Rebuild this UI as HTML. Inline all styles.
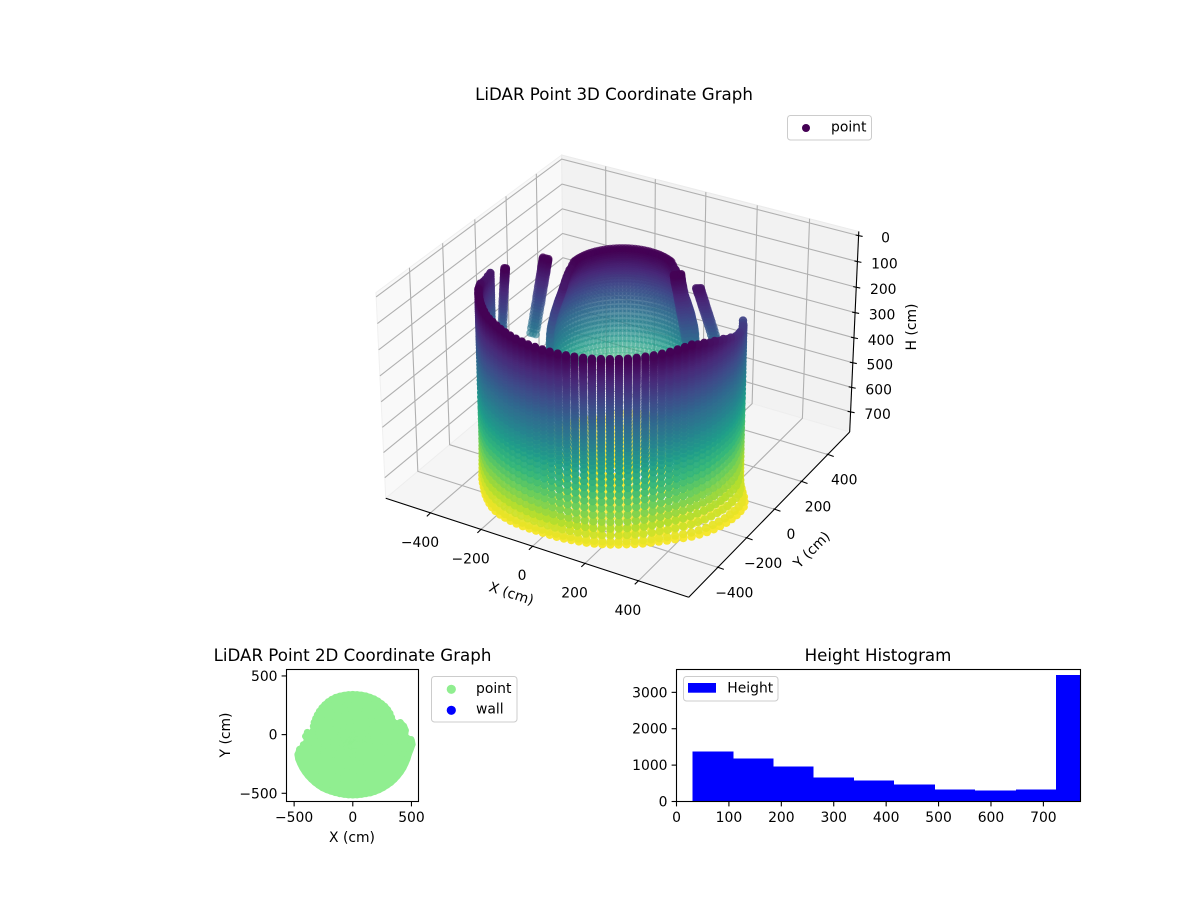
<!DOCTYPE html>
<html>
<head>
<meta charset="utf-8">
<title>LiDAR Point Graphs</title>
<style>
html,body{margin:0;padding:0;background:#fff;}
svg{display:block;}
text{font-family:"DejaVu Sans","Liberation Sans",sans-serif;font-size:13.9px;fill:#000;}
.title{font-size:16.67px;text-anchor:middle;}
.mid{text-anchor:middle;}
.end{text-anchor:end;}
</style>
</head>
<body>
<svg id="figure" width="1200" height="900" viewBox="0 0 1200 900" xmlns="http://www.w3.org/2000/svg">
  <rect width="1200" height="900" fill="#fff"/>
  <text class="title" x="614" y="100">LiDAR Point 3D Coordinate Graph</text>
  <g id="axes3d"></g>
  <g id="cloud3d"></g>
  <text class="mid" transform="translate(510,598) rotate(18)">X (cm)</text>
  <text class="mid" transform="translate(815,553) rotate(-45)">Y (cm)</text>
  <text class="mid" transform="translate(916,327) rotate(-90)">H (cm)</text>
  <g>
    <rect x="787.5" y="115.5" width="84" height="24.5" rx="3" fill="#fff" stroke="#ccc" stroke-width="1"/>
    <circle cx="806" cy="128" r="4" fill="#440154"/>
    <text x="831" y="131.5">point</text>
  </g>

  <text class="title" x="352.5" y="661">LiDAR Point 2D Coordinate Graph</text>
  <g id="cloud2d"></g>
  <rect x="286.5" y="669.5" width="132" height="132" fill="none" stroke="#000" stroke-width="1.1"/>
  <g id="axes2d"></g>
  <text class="mid" x="352" y="842">X (cm)</text>
  <text class="mid" transform="translate(230,735) rotate(-90)">Y (cm)</text>
  <g>
    <rect x="431.5" y="676.5" width="85.5" height="45.5" rx="3" fill="#fff" stroke="#ccc" stroke-width="1"/>
    <circle cx="451.3" cy="689.3" r="4.6" fill="#90ee90"/>
    <circle cx="451.3" cy="710.3" r="4.6" fill="#0000ff"/>
    <text x="476" y="693">point</text>
    <text x="476" y="713.5">wall</text>
  </g>

  <text class="title" x="878" y="661">Height Histogram</text>
  <g id="histBars" shape-rendering="crispEdges"></g>
  <rect x="676.5" y="669.5" width="404" height="132" fill="none" stroke="#000" stroke-width="1.1"/>
  <g id="histAxes"></g>
  <g>
    <rect x="683.5" y="676.5" width="94.5" height="24.5" rx="3" fill="#fff" stroke="#ccc" stroke-width="1"/>
    <rect x="688" y="683" width="28" height="9.7" fill="#0000ff"/>
    <text x="727.3" y="692.5">Height</text>
  </g>
</svg>
<script>
// ---- 3D axis ranges and ticks ----
const xRange3d = [-580, 585];
const yRange3d = [-596, 572];
const hRange3d = [-16, 783];
const xTicks3d = [-400, -200, 0, 200, 400];
const yTicks3d = [-400, -200, 0, 200, 400];
const hTicks3d = [0, 100, 200, 300, 400, 500, 600, 700];
const xTickLabels3d = ['\u2212400', '\u2212200', '0', '200', '400'];
const yTickLabels3d = ['\u2212400', '\u2212200', '0', '200', '400'];
const hTickLabels3d = ['0', '100', '200', '300', '400', '500', '600', '700'];

// ---- room centre in data space ----
const roomCenter = [0, -85];
const domeCenter = [5, -12];

// ---- floor outline: azimuth (deg) and radius (cm) ----
const outlineAngles = [0,5,10,15,20,25,30,35,40,45,50,55,60,65,70,75,80,85,90,95,100,105,110,115,120,125,130,135,140,145,150,155,160,165,170,175,180,185,190,195,200,205,210,215,220,225,230,235,240,245,250,255,260,265,270,275,280,285,290,295,300,305,310,315,320,325,330,335,340,345,350,355];
const outlineRadius = [536,530,480,494,490,475,421,430,440,448,452,454,456,457,457,457,456,455,455,455,455,455,455,452,448,442,436,428,420,412,405,395,381,427,435,418,448,485,505,507,503,500,496,492,488,485,481,478,472,467,463,461,459,458,457,458,459,461,466,469,473,477,481,486,490,493,497,501,503,507,511,522];
const floorFractions = [0.09,0.18,0.27,0.36,0.45,0.54,0.63,0.72,0.79,0.85];
const floorHeight = 768;

// ---- wall columns ----
const wallAngles = [189.5,192.75,196,199.25,202.5,205.75,209,212.25,215.5,218.75,222,225.25,228.5,231.75,235,238.25,241.5,244.75,248,251.25,254.5,257.75,261,264.25,267.5,270.75,274,277.25,280.5,283.75,287,290.25,293.5,296.75,300,303.25,306.5,309.75,313,316.25,319.5,322.75,326,329.25,332.5,335.75,339,342.25,345.5,348.75,352,355.25,358.5,361.75,365,368.25,371.5,374.75,378,381.25,384.5,387.75,391];
const wallRadius = [428,428,428,428,429,430,431,432,434,436,438,440,443,446,450,454,457,459,462,466,469,473,476,479,483,485,488,491,493,495,497,498,500,500,500,500,500,498,497,495,493,491,488,485,483,479,476,473,469,466,462,459,457,454,450,448,445,442,442,441,441,440,440];
const wallBaseRadius = [430,430,432,432,433,433,434,436,438,440,442,444,448,452,456,460,464,466,466,465,464,462,460,458,456,455,455,456,457,458,460,462,464,465,466,467,468,470,472,474,476,480,484,490,497,501,505,507,508,510,510,510,508,505,495,482,468,456,448,444,442,441,440];
const wallRim = [75,75,72,66,60,52,44,38,32,32,32,32,32,32,32,32,32,32,32,32,32,32,32,32,32,32,32,32,32,32,32,32,32,32,32,32,32,32,32,32,32,32,32,32,32,40,46,54,62,72,82,92,102,112,120,128,136,144,152,158,164,170,176];
const wallRows = [32,37,42,47,52,58,64,70,76,82,89,96,103,110,118,126,134,142,151,160,169,179,189,199,210,221,232,244,256,268,281,294,308,322,336,351,366,382,398,415,432,450,472,495,519,544,570,597,625,654,684,715,745,760];
const wallRowFlare = [0,0,0,0,0,0,0,0,0,0,0,0,0,0,0,0,0,0,0,0,0,0,0,0,0,0,0,0,0,0,0,0,0,0,0,0,0,0,0,0,0,0,0,0,0,0,0,0.05,0.12,0.25,0.42,0.62,0.85,1];

// ---- rear dome rows ----
const domeHeights = [32,40,48,56,64,72,80,90,100,110,120,132,144,156,170,184,198,214,230,246,264,282,300,320,340,360,382,404,428,452,478,505];
const domeRadius = [185,186,187,189,191,193,195,198,201,204,207,211,215,219,223,227,231,234,238,241,243,244,245,245,246,249,252,256,260,264,268,272];
const domeSpan = [63,68,72,76,80,85,90,90,90,90,90,90,90,90,90,90,90,90,90,90,90,90,90,90,90,88,84,78,72,67,62,58];
const domeOffsets = [0,3.25,6.5,9.75,13,16.25,19.5,22.75,26,29.25,32.5,35.75,39,42.25,45.5,48.75,52,55.25,58.5,61.75,65,68.25,71.5,74.75,78,81.25,84.5,87.75,90];

// ---- rear wall strips ("fins"): one azimuth each, radius per row (0 = no point) ----
const finRows = [32,36,40,44,48,52,56,60,65,70,75,80,86,92,100,108,116,124,132,140,150,160,170,180,190,200,212,224,236,250,264,278,292,306,320,340];
const finAngles = [200, 181, 32, 45];
const finCenterX = [3, -5, -11, 0];
const finCenterY = [-40, -38, -63, -85];
const finThickness = [[-3,3],[-11,0,11],[-8,0,8],[-13,-4,4,13]];
const fin1Radius = [380,380,381,381,381,381,382,382,382,383,383,383,384,384,385,385,386,386,387,387,388,389,389,390,390,391,391,392,393,393,394,395,396,396,397,398];
const fin2Radius = [269,270,270,271,272,272,273,274,275,276,277,277,278,279,281,282,284,285,286,288,290,291,293,295,297,298,300,303,305,307,310,312,315,317,320,323];
const fin3Radius = [0,0,0,0,0,0,0,0,0,290,291,293,294,296,299,301,303,306,308,310,313,316,319,322,325,328,331,335,338,342,346,350,354,358,362,368];
const fin4Radius = [230,230,231,231,232,232,233,233,234,235,236,237,238,239,241,242,243,245,246,247,249,251,252,254,256,258,260,262,264,266,269,271,274,276,279,282];

// ---- 2D chart ----
const xRange2d = [-565, 560];
const yRange2d = [-570, 555];
const xTicks2d = [-500, 0, 500];
const yTicks2d = [-500, 0, 500];
const xTickLabels2d = ['\u2212500', '0', '500'];
const yTickLabels2d = ['\u2212500', '0', '500'];
const ringFractions2d = [0.04,0.12,0.20,0.28,0.36,0.44,0.52,0.60,0.68,0.76,0.84,0.94];

// ---- histogram ----
const binEdges = [30.5,108.6,184.8,261,339,415,493,569.5,647.6,723.8,770.8];
const binCounts = [1377,1185,964,661,578,468,331,303,331,3471];
const histXTicks = [0,100,200,300,400,500,600,700];
const histYTicks = [0,1000,2000,3000];
const histXLabels = ['0','100','200','300','400','500','600','700'];
const histYLabels = ['0','1000','2000','3000'];
const histXMax = 770.8;
const histYMax = 3628;

const viridisStops = ['#440154','#482878','#3e4989','#31688e','#26828e','#1f9e89','#35b779','#6ece58','#b5de2b','#fde725'];

const SVGNS = 'http://www.w3.org/2000/svg';
function make(tag, parent, attrs) {
  const el = document.createElementNS(SVGNS, tag);
  for (const k in attrs) el.setAttribute(k, attrs[k]);
  if (parent) parent.appendChild(el);
  return el;
}
function project(x, y, h) {
  const dx = ((x - xRange3d[0]) / (xRange3d[1] - xRange3d[0]) - 0.5) * 1.19;
  const dy = ((y - yRange3d[0]) / (yRange3d[1] - yRange3d[0]) - 0.5) * 1.19;
  const dz = (0.5 - (h - hRange3d[0]) / (hRange3d[1] - hRange3d[0])) * 0.8;
  const xv = 0.866 * dx + 0.5 * dy;
  const yv = -0.25 * dx + 0.433 * dy + 0.866 * dz;
  const wd = 0.433 * dx - 0.75 * dy + 0.5 * dz;
  const k = 10 - wd;
  return { x: 622 + 2910 * xv / k, y: 365 - 2930 * yv / k, depth: wd };
}
function viridis(t) {
  t = Math.max(0, Math.min(1, t)) * (viridisStops.length - 1);
  const i = Math.min(viridisStops.length - 2, Math.floor(t));
  const f = t - i;
  const a = parseInt(viridisStops[i].slice(1), 16);
  const b = parseInt(viridisStops[i + 1].slice(1), 16);
  const ch = s => Math.round(((a >> s) & 255) * (1 - f) + ((b >> s) & 255) * f);
  return 'rgb(' + ch(16) + ',' + ch(8) + ',' + ch(0) + ')';
}
function polar(center, r, thetaDeg) {
  const a = thetaDeg * Math.PI / 180;
  return [center[0] + r * Math.cos(a), center[1] + r * Math.sin(a)];
}

// ---------- 3D axes ----------
const axes3d = document.getElementById('axes3d');
const X0 = xRange3d[0], X1 = xRange3d[1], Y0 = yRange3d[0], Y1 = yRange3d[1], HT = hRange3d[0], HB = hRange3d[1];
function poly(pts) {
  return pts.map(p => { const q = project(p[0], p[1], p[2]); return q.x + ',' + q.y; }).join(' ');
}
const leftPane = make('polygon', axes3d, { points: poly([[X0,Y0,HB],[X0,Y0,HT],[X0,Y1,HT],[X0,Y1,HB]]), fill: '#f9f9f9', stroke: '#f0f0f0', 'stroke-width': 1 });


const backPane = make('polygon', axes3d, { points: poly([[X0,Y1,HB],[X0,Y1,HT],[X1,Y1,HT],[X1,Y1,HB]]), fill: '#f2f2f2', stroke: '#ebebeb', 'stroke-width': 1 });


const floorPane = make('polygon', axes3d, { points: poly([[X0,Y0,HB],[X1,Y0,HB],[X1,Y1,HB],[X0,Y1,HB]]), fill: '#f5f5f5', stroke: '#eeeeee', 'stroke-width': 1 });



function line3d(parent, a, b, color, w) {
  const p = project(a[0], a[1], a[2]), q = project(b[0], b[1], b[2]);
  return make('line', parent, { x1: p.x, y1: p.y, x2: q.x, y2: q.y, stroke: color, 'stroke-width': w });
}
xTicks3d.forEach(v => {
  const g = make('polyline', axes3d, { points: poly([[v,Y0,HB],[v,Y1,HB],[v,Y1,HT]]), fill: 'none', stroke: '#b0b0b0', 'stroke-width': 1.1 });
  
  
});
yTicks3d.forEach(v => {
  const g = make('polyline', axes3d, { points: poly([[X1,v,HB],[X0,v,HB],[X0,v,HT]]), fill: 'none', stroke: '#b0b0b0', 'stroke-width': 1.1 });
  
  
});
hTicks3d.forEach(v => {
  const g = make('polyline', axes3d, { points: poly([[X0,Y0,v],[X0,Y1,v],[X1,Y1,v]]), fill: 'none', stroke: '#b0b0b0', 'stroke-width': 1.1 });
  
  
});
const xAxisLine = line3d(axes3d, [X0,Y0,HB], [X1,Y0,HB], '#000', 1.1);


const yAxisLine = line3d(axes3d, [X1,Y0,HB], [X1,Y1,HB], '#000', 1.1);


const hAxisLine = line3d(axes3d, [X1,Y1,HB], [X1,Y1,HT], '#000', 1.1);



xTicks3d.forEach((v, i) => {
  const p = project(v, Y0, HB);
  const t = make('line', axes3d, { x1: p.x + 0.5, y1: p.y - 0.5, x2: p.x - 3.7, y2: p.y + 3.5, stroke: '#000', 'stroke-width': 1.1 });
  
  
  const l = make('text', axes3d, { x: p.x - 10.5, y: p.y + 34, class: 'mid' });
  
  
  l.textContent = xTickLabels3d[i];
});
yTicks3d.forEach((v, i) => {
  const p = project(X1, v, HB);
  const t = make('line', axes3d, { x1: p.x - 1, y1: p.y - 0.5, x2: p.x + 6, y2: p.y + 2, stroke: '#000', 'stroke-width': 1.1 });
  
  
  const l = make('text', axes3d, { x: p.x + 16.5, y: p.y + 30, class: 'mid' });
  
  
  l.textContent = yTickLabels3d[i];
});
hTicks3d.forEach((v, i) => {
  const p = project(X1, Y1, v);
  const t = make('line', axes3d, { x1: p.x - 3, y1: p.y - 0.6, x2: p.x + 4, y2: p.y + 0.8, stroke: '#000', 'stroke-width': 1.1 });
  
  
  const l = make('text', axes3d, { x: p.x + 27, y: p.y + 7, class: 'mid' });
  
  
  l.textContent = hTickLabels3d[i];
});

// ---------- 3D cloud ----------
const cloud = [];
function addPoint(x, y, h, minAlpha, size) { cloud.push(Object.assign(project(x, y, h), { h: h, minAlpha: minAlpha, size: size })); }

// wall columns
wallAngles.forEach((theta, c) => {
  wallRows.forEach((h, row) => {
    if (h < wallRim[c]) return;
    const r = wallRadius[c] + wallRowFlare[row] * (wallBaseRadius[c] - wallRadius[c]);
    const p = polar(roomCenter, r, theta);
    addPoint(p[0], p[1], h, 0.95, 4.2);
  });
});
// rear dome
domeHeights.forEach((h, i) => {
  domeOffsets.forEach(o => {
    if (o > domeSpan[i]) return;
    const signs = o === 0 ? [1] : [1, -1];
    signs.forEach(s => {
      const p = polar(domeCenter, domeRadius[i], 120 + s * o);
      addPoint(p[0], p[1], h, 0, 4);
    });
  });
});
// rear fins
[fin1Radius, fin2Radius, fin3Radius, fin4Radius].forEach((radii, f) => {
  finRows.forEach((h, i) => {
    if (!radii[i]) return;
    finThickness[f].forEach(off => {
      const p = polar([finCenterX[f], finCenterY[f]], radii[i] + off, finAngles[f]);
      addPoint(p[0], p[1], h, 0, 4);
    });
  });
});
// floor
outlineAngles.forEach((theta, a) => {
  floorFractions.forEach(fr => {
    const p = polar(roomCenter, outlineRadius[a] * fr, theta);
    addPoint(p[0], p[1], floorHeight, 0.6, 4);
  });
});

cloud.sort((a, b) => a.depth - b.depth);
const cloudGroup = document.getElementById('cloud3d');
const minDepth = cloud[0].depth, maxDepth = cloud[cloud.length - 1].depth;
cloud.forEach(pt => {
  const near = (pt.depth - minDepth) / (maxDepth - minDepth);
  const alpha = Math.max(pt.minAlpha, Math.min(0.97, 0.25 + 1.1 * near));
  const dot = make('circle', cloudGroup, {
    cx: pt.x.toFixed(1), cy: pt.y.toFixed(1), r: pt.size,
    fill: viridis((pt.h - 30) / 740),
    'fill-opacity': alpha.toFixed(2)
  });
  
  
});

// ---------- 2D chart ----------
const px2 = v => 286.5 + (v - xRange2d[0]) / (xRange2d[1] - xRange2d[0]) * 132;
const py2 = v => 801.5 - (v - yRange2d[0]) / (yRange2d[1] - yRange2d[0]) * 132;
const cloud2d = document.getElementById('cloud2d');
const blob = make('polygon', cloud2d, {
  points: outlineAngles.map((theta, a) => {
    const p = polar(roomCenter, outlineRadius[a], theta);
    return px2(p[0]).toFixed(1) + ',' + py2(p[1]).toFixed(1);
  }).join(' '),
  fill: '#90ee90'
});


outlineAngles.forEach((theta, a) => {
  ringFractions2d.forEach(fr => {
    const p = polar(roomCenter, outlineRadius[a] * fr, theta);
    const dot = make('circle', cloud2d, { cx: px2(p[0]).toFixed(1), cy: py2(p[1]).toFixed(1), r: 3.5, fill: '#90ee90' });
    
    
  });
});
const axes2d = document.getElementById('axes2d');
xTicks2d.forEach((v, i) => {
  const x = px2(v);
  const t = make('line', axes2d, { x1: x, y1: 801.5, x2: x, y2: 806.4, stroke: '#000', 'stroke-width': 1.1 });
  
  
  const l = make('text', axes2d, { x: x, y: 822, class: 'mid' });
  
  
  l.textContent = xTickLabels2d[i];
});
yTicks2d.forEach((v, i) => {
  const y = py2(v);
  const t = make('line', axes2d, { x1: 286.5, y1: y, x2: 281.6, y2: y, stroke: '#000', 'stroke-width': 1.1 });
  
  
  const l = make('text', axes2d, { x: 277.5, y: y + 5, class: 'end' });
  
  
  l.textContent = yTickLabels2d[i];
});

// ---------- histogram ----------
const hx = v => 676.5 + v / histXMax * 404;
const hy = v => 801.5 - v / histYMax * 132;
const histBars = document.getElementById('histBars');
binCounts.forEach((c, i) => {
  const bar = make('rect', histBars, {
    x: hx(binEdges[i]), y: hy(c),
    width: hx(binEdges[i + 1]) - hx(binEdges[i]),
    height: hy(0) - hy(c), fill: '#0000ff'
  });
  
  
});
const histAxes = document.getElementById('histAxes');
histXTicks.forEach((v, i) => {
  const x = hx(v);
  const t = make('line', histAxes, { x1: x, y1: 801.5, x2: x, y2: 806.4, stroke: '#000', 'stroke-width': 1.1 });
  
  
  const l = make('text', histAxes, { x: x, y: 822, class: 'mid' });
  
  
  l.textContent = histXLabels[i];
});
histYTicks.forEach((v, i) => {
  const y = hy(v);
  const t = make('line', histAxes, { x1: 676.5, y1: y, x2: 671.6, y2: y, stroke: '#000', 'stroke-width': 1.1 });
  
  
  const l = make('text', histAxes, { x: 667.5, y: y + 5, class: 'end' });
  
  
  l.textContent = histYLabels[i];
});
</script>
</body>
</html>
